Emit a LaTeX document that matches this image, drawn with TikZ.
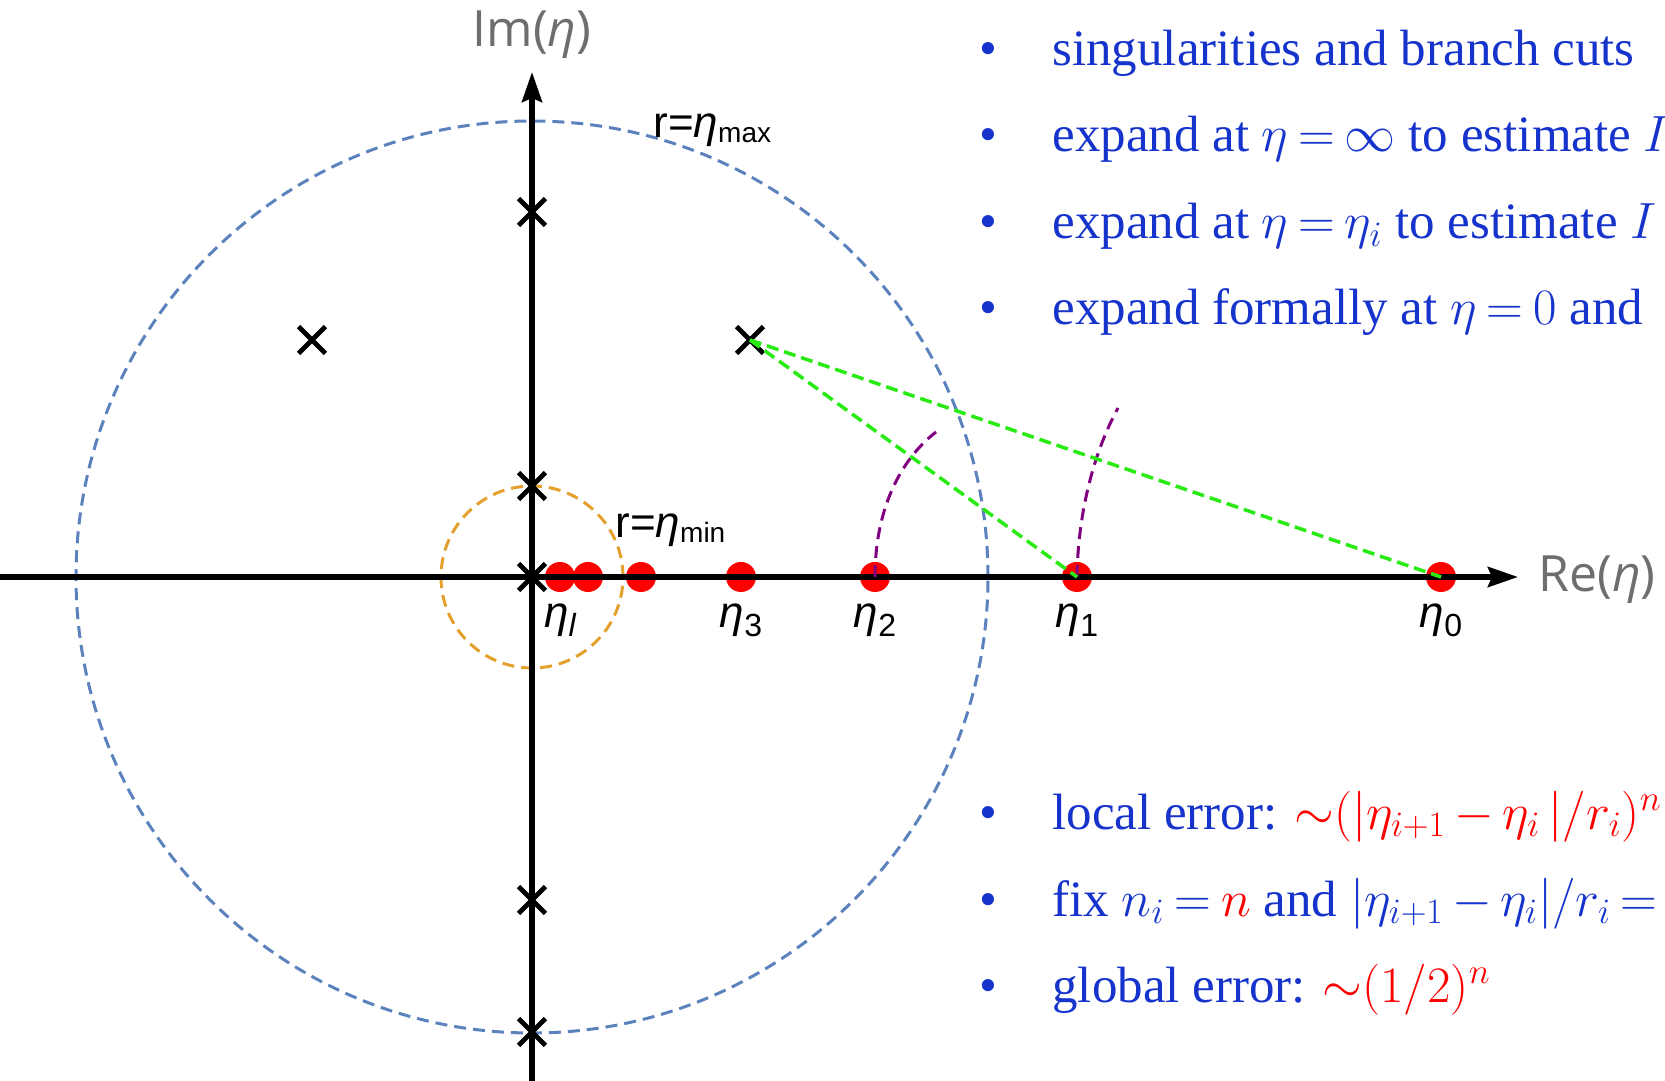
\RequirePackage{fix-cm}
\documentclass[tikz,border=0pt]{standalone}
\usepackage{amsmath,amssymb}
\usepackage{fontspec}
\setmainfont{Liberation Serif}
\newfontfamily\arialf{Liberation Sans}
\newfontfamily\segoef{Open Sans}
\usepackage{tikz}
\usepackage{xcolor}
\usetikzlibrary{arrows.meta,calc,positioning,shapes.misc}
\definecolor{txtblue}{RGB}{22,52,204}
\definecolor{errred}{RGB}{255,0,0}
\definecolor{rmaxblue}{RGB}{92,130,190}
\definecolor{rminorange}{RGB}{228,160,45}
\definecolor{cutpurple}{RGB}{128,0,128}
\definecolor{distgreen}{RGB}{40,235,20}
\definecolor{axgray}{RGB}{110,110,110}
\newcommand{\etalab}[1]{{\itshape η}\raisebox{-4.5pt}{\fontsize{16}{16}\selectfont #1}}
\newcommand{\etasub}[1]{{\itshape η}\raisebox{-2.5pt}{\fontsize{14}{14}\selectfont #1}}
\thickmuskip=3.5mu plus 2mu
\medmuskip=3mu plus 1mu

\begin{document}
\begin{tikzpicture}[x=0.5pt,y=0.5pt,>=Stealth,
  rdot/.style={circle,fill=errred,minimum size=15pt,inner sep=0pt},
  sing/.style={draw,cross out,line width=2.4pt,minimum size=11pt,inner sep=0pt},
  lab/.style={inner sep=0pt,font=\arialf\fontsize{22}{24}\selectfont},
  axlab/.style={inner sep=0pt,axgray,font=\segoef\fontsize{25}{28}\selectfont},
  bul/.style={inner sep=0pt,txtblue,anchor=base west,font=\fontsize{25.5}{30}\selectfont},
  cut/.style={cutpurple,line width=1.5pt,dash pattern=on 6pt off 3.5pt},
  dist/.style={distgreen,line width=1.75pt,dash pattern=on 6pt off 3pt}]
  \clip (-532,-504) rectangle (1133,577);
  \coordinate (O) at (0,0);
  \coordinate (W) at (-532,0);
  \coordinate (E) at (986,0);
  \coordinate (S) at (0,-504);
  \coordinate (N) at (0,505);
  % radii of convergence
  \draw[rmaxblue,line width=1.5pt,dash pattern=on 6pt off 3.5pt] (O) circle[radius=456];
  \draw[rminorange,line width=1.5pt,dash pattern=on 6pt off 3.5pt] (O) circle[radius=91];
  % expansion points
  \foreach \n/\x in {l/28,a/56,b/109,3/209,2/343,1/545,0/909}
    \node[rdot] (e\n) at (\x,0) {};
  % axes
  \draw[line width=2.8pt,-{Stealth[length=15pt,width=10pt,inset=2pt]}] (W)--(E);
  \draw[line width=2.8pt,-{Stealth[length=15pt,width=10pt,inset=2pt]}] (S)--(N);
  \node[axlab,anchor=base west] (relab) at (1006,-15) {Re(\textit{η})};
  \node[axlab,anchor=base] (imlab) at (0,530) {Im(\textit{η})};
  % branch cuts
  \coordinate (c2) at (404,145);
  \coordinate (c1) at (586,169);
  \draw[cut] (e2.center) .. controls (343,67) and (368,117) .. (c2);
  \draw[cut] (e1.center) .. controls (546,67) and (563,127) .. (c1);
  % singularities
  \foreach \n/\p in {1/{0,365},2/{-220,237},3/{218,237},4/{0,91},5/{0,0},6/{0,-323},7/{0,-455}}
    \node[sing] (s\n) at (\p) {};
  \draw[dist] (s3.center)--(e1.center);
  \draw[dist] (s3.center)--(e0.center);
  % labels
  \node[lab,anchor=base west] (rmax) at (121,439) {r=\etasub{max}};
  \node[lab,anchor=base west] (rmin) at (83,39) {r=\etasub{min}};
  \foreach \n/\s in {l/{\itshape l},3/3,2/2,1/1,0/0}
    \path (e\n) ++(0,-51) node[lab,anchor=base] {\etalab{\s}};
  % bullets
  \foreach \y in {511,425,338,252,-252,-339,-425}
    \node[bul,anchor=base] at (456,\y) {•};
  \node[bul] (t1) at (520,511) {singularities and branch cuts};
  \node[bul] (t2) at (520,425) {expand at $\eta=\infty$ to estimate $I$};
  \node[bul] (t3) at (520,338) {expand at $\eta=\eta_i$ to estimate $I$};
  \node[bul] (t4) at (520,252) {expand formally at $\eta=0$ and};
  \node[bul] (t5) at (520,-252) {local error: \textcolor{errred}{${\sim}(|\eta_{i+1}-\eta_i\,|/r_i)^n$}};
  \node[bul] (t6) at (520,-339) {fix $n_i=\textcolor{errred}{n}$ and $|\eta_{i+1}-\eta_i|/r_i=$};
  \node[bul] (t7) at (520,-425) {global error: \textcolor{errred}{${\sim}(1/2)^n$}};
\end{tikzpicture}
\end{document}
